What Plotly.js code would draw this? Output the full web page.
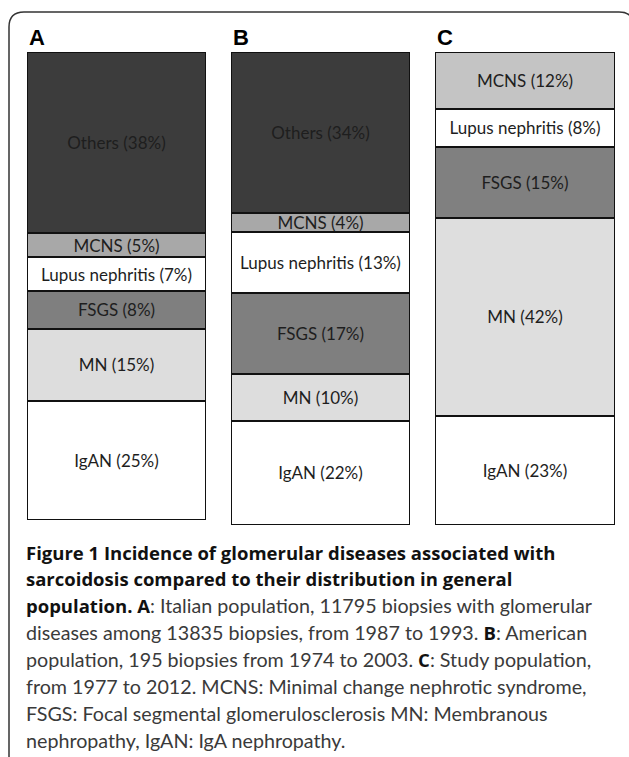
<!DOCTYPE html>
<html>
<head>
<meta charset="utf-8">
<script src="https://cdn.plot.ly/plotly-3.0.1.min.js"></script>
<style>
html,body{margin:0;padding:0;background:#fff;}
#chart{width:629px;height:757px;}
</style>
</head>
<body>
<div id="chart"></div>
<script>
// ---- data ----
const panels = ["A", "B", "C"];
// stacking order: bottom to top
const categories = ["IgAN", "MN", "FSGS", "Lupus nephritis", "MCNS", "Others"];
const valuesA = [25, 15, 8, 7, 5, 38];
const valuesB = [22, 10, 17, 13, 4, 34];
const valuesC = [23, 42, 15, 8, 12, 0];
const colorsA = ["#ffffff", "#dddddd", "#7f7f7f", "#ffffff", "#a8a8a8", "#3c3c3c"];
const colorsB = ["#ffffff", "#dddddd", "#7f7f7f", "#ffffff", "#a8a8a8", "#3c3c3c"];
const colorsC = ["#ffffff", "#dedede", "#808080", "#ffffff", "#c4c4c4", "#3c3c3c"];
const B0 = "<span style=\"font-family:'Open Sans';font-weight:bold;font-size:18.5px;color:#111\">";
const B1 = "</span>";
const captionLines = [
  B0 + "Figure 1 Incidence of glomerular diseases associated with" + B1,
  B0 + "sarcoidosis compared to their distribution in general" + B1,
  B0 + "population. A" + B1 + ": Italian population, 11795 biopsies with glomerular",
  "diseases among 13835 biopsies, from 1987 to 1993. " + B0 + "B" + B1 + ": American",
  "population, 195 biopsies from 1974 to 2003. " + B0 + "C" + B1 + ": Study population,",
  "from 1977 to 2012. MCNS: Minimal change nephrotic syndrome,",
  "FSGS: Focal segmental glomerulosclerosis MN: Membranous",
  "nephropathy, IgAN: IgA nephropathy."
];

const W = 629, H = 757;
const px = v => v / W;
const py = v => 1 - v / H;

const allValues = [valuesA, valuesB, valuesC];
const allColors = [colorsA, colorsB, colorsC];
const yaxisFor = ["y", "y2", "y2"];

const traces = [];
panels.forEach((p, pi) => {
  categories.forEach((c, ci) => {
    const v = allValues[pi][ci];
    if (!v) return;
    traces.push({
      type: "bar",
      x: [p],
      y: [v],
      xaxis: "x" + (pi === 0 ? "" : pi + 1),
      yaxis: yaxisFor[pi],
      marker: {color: allColors[pi][ci], line: {color: "#111", width: 2}},
      text: [c + " (" + v + "%)"],
      textposition: "inside",
      insidetextanchor: "middle",
      textangle: 0,
      textfont: {family: "Lato, 'Open Sans', sans-serif", size: 17, color: "#1e1e1e"},
      hoverinfo: "skip",
      showlegend: false
    });
  });
});

const sumA = valuesA.reduce((a, b) => a + b, 0);
const sumB = valuesB.reduce((a, b) => a + b, 0);

const hidden = {visible: false, fixedrange: true};
const layout = {
  width: W, height: H,
  margin: {l: 0, r: 0, t: 0, b: 0},
  paper_bgcolor: "#fff", plot_bgcolor: "rgba(0,0,0,0)",
  barmode: "stack", bargap: 0,
  uniformtext: {mode: "show", minsize: 17},
  xaxis:  Object.assign({}, hidden, {type: "category", range: [-0.5, 0.5], domain: [px(27), px(206)], anchor: "y"}),
  xaxis2: Object.assign({}, hidden, {type: "category", range: [-0.5, 0.5], domain: [px(231), px(410)], anchor: "y2"}),
  xaxis3: Object.assign({}, hidden, {type: "category", range: [-0.5, 0.5], domain: [px(435), px(615)], anchor: "y2"}),
  yaxis:  Object.assign({}, hidden, {range: [0, sumA], domain: [py(520), py(52)], anchor: "x"}),
  yaxis2: Object.assign({}, hidden, {range: [0, sumB], domain: [py(525), py(52)], anchor: "x2"}),
  shapes: [{
    type: "path", xref: "paper", yref: "paper",
    path: "M " + px(9) + " " + py(770) +
          " L " + px(9) + " " + py(27) +
          " Q " + px(9) + " " + py(12) + " " + px(24) + " " + py(12) +
          " L " + px(619) + " " + py(12) +
          " Q " + px(634) + " " + py(12) + " " + px(634) + " " + py(27) +
          " L " + px(634) + " " + py(770),
    line: {color: "#333", width: 1.5}
  }],
  annotations: []
};

const letterX = [29, 233, 437];
panels.forEach((p, i) => {
  layout.annotations.push({
    xref: "paper", yref: "paper", x: px(letterX[i] - 2), y: py(37),
    xanchor: "left", yanchor: "middle", showarrow: false,
    text: "<b>" + p + "</b>",
    font: {family: "Liberation Sans, Arial, sans-serif", size: 22, color: "#000"}
  });
});

captionLines.forEach((t, i) => {
  layout.annotations.push({
    xref: "paper", yref: "paper", x: px(24), y: py(552 + i * 26.9),
    xanchor: "left", yanchor: "middle", align: "left", showarrow: false,
    text: t,
    font: {family: "Lato, 'Open Sans', sans-serif", size: 19.7, color: "#3a3a3a"}
  });
});

Plotly.newPlot("chart", traces, layout, {staticPlot: true, displayModeBar: false});
</script>
</body>
</html>
